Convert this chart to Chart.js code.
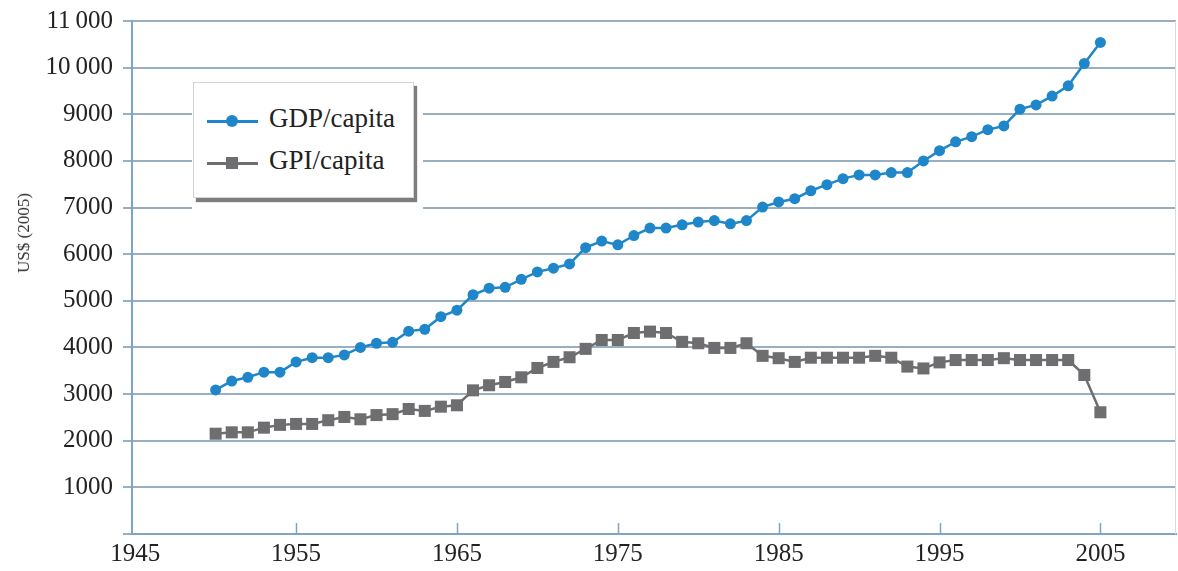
<!DOCTYPE html>
<html>
<head>
  <title>GDP vs GPI per capita</title>
  <script src="https://cdn.jsdelivr.net/npm/chart.js"></script>
  <style>
    html, body { margin: 0; background: #fff; overflow: hidden; }
    .container { position: relative; width: 1178px; height: 571px; }
    .ytitle {
      position: absolute; left: 24px; top: 233px;
      transform: translate(-50%, -50%) rotate(-90deg);
      font: 17px "Liberation Serif", serif; color: #333; white-space: nowrap;
    }
    .legend-mask {
      position: absolute; left: 192px; top: 73px; width: 231px; height: 140px; background: #fff;
    }
    .legend-box {
      position: absolute; left: 193px; top: 82px; width: 219px; height: 114px;
      background: #fff; border: 1px solid #d4d4d4; box-shadow: 3px 4px 1px #7d7d7d;
    }
    .legend-row { position: absolute; left: 0; height: 30px; width: 219px; }
    .legend-row .ln { position: absolute; left: 13px; top: 14px; width: 51px; height: 3px; }
    .legend-row .mk { position: absolute; }
    .legend-row .tx {
      position: absolute; left: 75px; top: -3px;
      font: 27px "Liberation Serif", serif; color: #222; white-space: nowrap;
    }
  </style>
</head>
<body>
  <div class="container">
    <canvas id="gpiChart"></canvas>
    <div class="ytitle">US$ (2005)</div>
    <div class="legend-mask"></div>
    <div class="legend-box">
      <div class="legend-row" style="top:23px">
        <div class="ln" style="background:#1f87c9"></div>
        <div class="mk" style="left:32px;top:9px;width:12px;height:12px;border-radius:50%;background:#1f87c9"></div>
        <div class="tx">GDP/capita</div>
      </div>
      <div class="legend-row" style="top:65px">
        <div class="ln" style="background:#6e6e70"></div>
        <div class="mk" style="left:32px;top:9px;width:12px;height:12px;background:#6e6e70"></div>
        <div class="tx">GPI/capita</div>
      </div>
    </div>
  </div>

  <script>
    const years = [1950, 1951, 1952, 1953, 1954, 1955, 1956, 1957, 1958, 1959,
                   1960, 1961, 1962, 1963, 1964, 1965, 1966, 1967, 1968, 1969,
                   1970, 1971, 1972, 1973, 1974, 1975, 1976, 1977, 1978, 1979,
                   1980, 1981, 1982, 1983, 1984, 1985, 1986, 1987, 1988, 1989,
                   1990, 1991, 1992, 1993, 1994, 1995, 1996, 1997, 1998, 1999,
                   2000, 2001, 2002, 2003, 2004, 2005];

    const gdpPerCapita = [3090, 3280, 3360, 3470, 3470, 3690, 3780, 3780, 3840, 4000,
                          4090, 4110, 4350, 4390, 4660, 4800, 5130, 5270, 5290, 5460,
                          5620, 5700, 5790, 6140, 6280, 6200, 6400, 6560, 6560, 6630,
                          6690, 6720, 6650, 6720, 7010, 7120, 7190, 7360, 7490, 7620,
                          7700, 7700, 7750, 7750, 8000, 8220, 8410, 8520, 8670, 8750,
                          9110, 9200, 9390, 9610, 10090, 10540];

    const gpiPerCapita = [2150, 2180, 2180, 2280, 2340, 2360, 2360, 2440, 2510, 2460,
                          2550, 2570, 2680, 2640, 2730, 2760, 3080, 3190, 3260, 3360,
                          3560, 3690, 3790, 3970, 4160, 4160, 4310, 4340, 4310, 4120,
                          4090, 3990, 3990, 4090, 3820, 3770, 3690, 3780, 3780, 3780,
                          3780, 3820, 3780, 3590, 3550, 3680, 3730, 3730, 3730, 3770,
                          3730, 3730, 3730, 3730, 3410, 2610];

    const xTickYears = [1945, 1955, 1965, 1975, 1985, 1995, 2005];

    const axisBlue = '#7fa5c6';
    const gridColor = '#98afc2';
    const serif = "'Liberation Serif', 'Times New Roman', serif";

    // small upward ticks on the x axis + right frame line
    const innerTicks = {
      id: 'innerTicks',
      afterDatasetsDraw(chart) {
        const { ctx, chartArea, scales } = chart;
        ctx.save();
        ctx.strokeStyle = axisBlue;
        ctx.lineWidth = 1.5;
        ctx.beginPath();
        xTickYears.slice(1).forEach(v => {
          const px = Math.round(scales.x.getPixelForValue(v)) + 0.5;
          ctx.moveTo(px, chartArea.bottom);
          ctx.lineTo(px, chartArea.bottom - 11);
        });
        ctx.stroke();
        ctx.strokeStyle = '#d3dde6';
        ctx.lineWidth = 1;
        ctx.beginPath();
        ctx.moveTo(chartArea.right - 0.5, chartArea.top);
        ctx.lineTo(chartArea.right - 0.5, chartArea.bottom);
        ctx.stroke();
        ctx.restore();
      }
    };

    const ctx = document.getElementById('gpiChart').getContext('2d');
    new Chart(ctx, {
      type: 'line',
      data: {
        datasets: [{
          label: 'GDP/capita',
          data: years.map((y, i) => ({ x: y, y: gdpPerCapita[i] })),
          borderColor: '#1f87c9',
          backgroundColor: '#1f87c9',
          borderWidth: 2.5,
          pointRadius: 5.5,
          pointBorderWidth: 0,
          pointStyle: 'circle'
        }, {
          label: 'GPI/capita',
          data: years.map((y, i) => ({ x: y, y: gpiPerCapita[i] })),
          borderColor: '#6e6e70',
          backgroundColor: '#6e6e70',
          borderWidth: 2.5,
          pointRadius: 8.5,
          pointBorderWidth: 0,
          pointStyle: 'rect'
        }]
      },
      options: {
        responsive: true,
        maintainAspectRatio: false,
        animation: false,
        layout: { autoPadding: false, padding: { top: 21, right: 2, left: 0, bottom: 0 } },
        plugins: {
          legend: { display: false },
          tooltip: { enabled: false }
        },
        scales: {
          x: {
            type: 'linear',
            min: 1944.8,
            max: 2009.7,
            afterBuildTicks: scale => { scale.ticks = xTickYears.map(v => ({ value: v })); },
            afterFit: scale => { scale.height = 37; },
            grid: { drawOnChartArea: false, drawTicks: false },
            border: { display: true, color: axisBlue, width: 2 },
            ticks: {
              padding: 5,
              maxRotation: 0,
              autoSkip: false,
              color: '#222',
              font: { family: serif, size: 25 },
              callback: v => String(v)
            }
          },
          y: {
            min: 0,
            max: 11000,
            afterFit: scale => { scale.width = 132; },
            grid: { color: gridColor, lineWidth: 2, tickLength: 9 },
            border: { display: true, color: axisBlue, width: 2 },
            ticks: {
              stepSize: 1000,
              padding: 10,
              color: '#222',
              font: { family: serif, size: 25, lineHeight: 0.85 },
              callback: v => v === 0 ? '' : (v >= 10000 ? Math.floor(v / 1000) + '\u2009' + '000' : String(v))
            }
          }
        }
      },
      plugins: [innerTicks]
    });
  </script>
</body>
</html>
